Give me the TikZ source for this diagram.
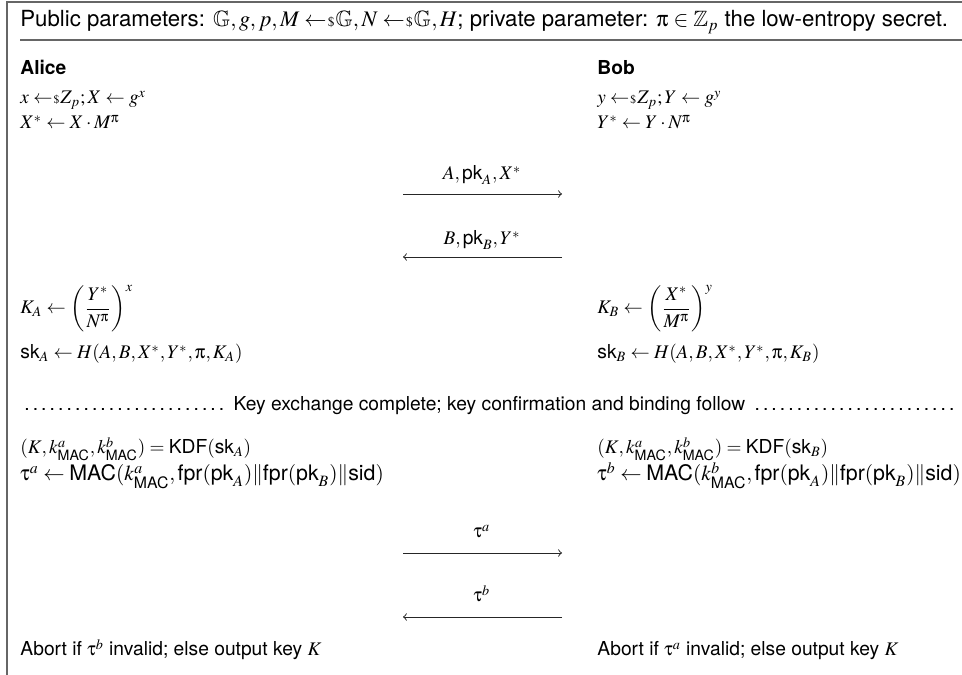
\documentclass[tikz,border=0pt]{standalone}
\usepackage{amsmath,amssymb}
\usepackage{mathptmx}
\DeclareSymbolFont{upgr}{U}{psy}{m}{n}
\DeclareMathSymbol{\pi}{\mathord}{upgr}{`p}
\DeclareMathSymbol{\tau}{\mathord}{upgr}{`t}
\usepackage[no-math]{fontspec}
\setmainfont{TeX Gyre Heros}
\setsansfont{TeX Gyre Heros}
\newcommand{\sfm}[1]{\text{\sffamily #1}}
\newcommand{\smpl}{\mathrel{\leftarrow\mkern-3mu{\scriptscriptstyle\$}}\mkern-3mu}
\newcommand{\cat}{\mathord{\|}}
\tikzset{
  lbl/.style={inner sep=0pt, anchor=base west},
  biglbl/.style={inner sep=0pt, anchor=base west, font=\fontsize{11.1}{13}\selectfont},
  msg/.style={inner sep=0pt, anchor=base},
  arr/.style={->, line width=0.5pt, draw=black!85},
  frameline/.style={draw=black!60, line width=0.8pt}
}
\begin{document}
\begin{tikzpicture}[x=0.52pt,y=-0.52pt]
\useasboundingbox (0,0) rectangle (962,675);
\draw[frameline] (962,2) -- (7,2) -- (7,675);
\draw[frameline] (20,40) -- (962,40);
\node[lbl] (hdr) at (20,27) {\fontsize{11.55}{14}\selectfont Public parameters: $\mathbb{G}, g, p, M \smpl \mathbb{G}, N \smpl \mathbb{G}, H$; private parameter: $\pi \in \mathbb{Z}_p$ the low-entropy secret.};
\node[lbl] (alice) at (20,75) {\textbf{Alice}};
\node[lbl] (bob) at (597,75) {\textbf{Bob}};
\node[lbl] (a1) at (20,104) {$x \smpl Z_p; X \leftarrow g^x$};
\node[lbl] (b1) at (597,104) {$y \smpl Z_p; Y \leftarrow g^y$};
\node[lbl] (a2) at (20,129) {$X^* \leftarrow X \cdot M^\pi$};
\node[lbl] (b2) at (597,129) {$Y^* \leftarrow Y \cdot N^\pi$};
\coordinate (m1s) at (403,194);
\coordinate (m1e) at (562,194);
\draw[arr] (m1s) -- (m1e);
\node[msg] (m1) at (482,180) {$A, \sfm{pk}_A, X^*$};
\coordinate (m2s) at (562,257);
\coordinate (m2e) at (403,257);
\draw[arr] (m2s) -- (m2e);
\node[msg] (m2) at (482,245) {$B, \sfm{pk}_B, Y^*$};
\node[lbl] (a3) at (20,314) {$K_A \leftarrow \left(\dfrac{Y^*}{N^\pi}\right)^{x}$};
\node[lbl] (b3) at (597,314) {$K_B \leftarrow \left(\dfrac{X^*}{M^\pi}\right)^{y}$};
\node[lbl] (a4) at (20,359) {$\sfm{sk}_A \leftarrow H(A, B, X^*, Y^*, \pi, K_A)$};
\node[lbl] (b4) at (597,359) {$\sfm{sk}_B \leftarrow H(A, B, X^*, Y^*, \pi, K_B)$};
\node[lbl] (sep) at (20,411) {\makebox[487.8pt]{\dotfill\ Key exchange complete; key confirmation and binding follow\ \dotfill}};
\node[lbl] (a5) at (20,454) {$(K, k^a_{\sfm{MAC}}, k^b_{\sfm{MAC}}) = \sfm{KDF}(\sfm{sk}_A)$};
\node[lbl] (b5) at (597,454) {$(K, k^a_{\sfm{MAC}}, k^b_{\sfm{MAC}}) = \sfm{KDF}(\sfm{sk}_B)$};
\node[biglbl] (a6) at (20,481) {$\tau^a \leftarrow \sfm{MAC}(k^a_{\sfm{MAC}}, \sfm{fpr}(\sfm{pk}_A)\cat\sfm{fpr}(\sfm{pk}_B)\cat\sfm{sid})$};
\node[biglbl] (b6) at (597,481) {$\tau^b \leftarrow \sfm{MAC}(k^b_{\sfm{MAC}}, \sfm{fpr}(\sfm{pk}_A)\cat\sfm{fpr}(\sfm{pk}_B)\cat\sfm{sid})$};
\coordinate (m3s) at (403,553);
\coordinate (m3e) at (562,553);
\draw[arr] (m3s) -- (m3e);
\node[msg] (m3) at (482,538) {$\tau^a$};
\coordinate (m4s) at (562,617);
\coordinate (m4e) at (403,617);
\draw[arr] (m4s) -- (m4e);
\node[msg] (m4) at (482,602) {$\tau^b$};
\node[lbl] (a7) at (20,656) {Abort if $\tau^b$ invalid; else output key $K$};
\node[lbl] (b7) at (597,656) {Abort if $\tau^a$ invalid; else output key $K$};
\end{tikzpicture}
\end{document}
